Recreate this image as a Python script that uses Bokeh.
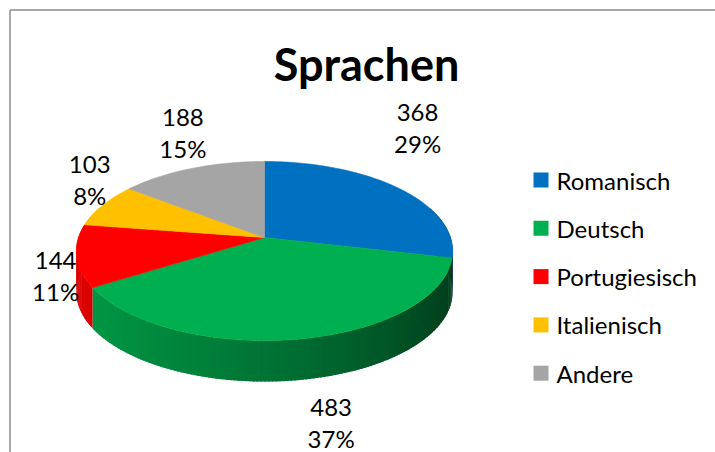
import math
from bokeh.plotting import figure
from bokeh.models import Range1d
from bokeh.core.properties import value
from bokeh.embed import file_html
from bokeh.resources import INLINE

# ---------------- data ----------------
title_text = "Sprachen"
categories = ["Romanisch", "Deutsch", "Portugiesisch", "Italienisch", "Andere"]
counts = [368, 483, 144, 103, 188]
pct_labels = ["29%", "37%", "11%", "8%", "15%"]
colors = ["#0070C0", "#00B050", "#FF0000", "#FFC000", "#A5A5A5"]

# ---------------- layout / style ----------------
W, H = 715, 452
OX, OY = 0, 0                 # data coords == page pixels
CX, CY = 264.0, 237.0         # pie apex
S, SS, K = 186.0, 87.5, 0.151 # horizontal radius, vertical radius, perspective
T = 41.0                      # thickness of the pie
FONT = "Lato"
# label nudges (pixels) relative to the slice's rim point
label_shift = [(20, -60), (31, 84), (-21, 20), (-13, -25), (-9, -35)]
LINE_GAP = 31

p = figure(width=W, height=H, x_range=Range1d(OX, OX + W), y_range=Range1d(OY + H, OY),
           output_backend="svg", toolbar_location=None, min_border=0,
           x_axis_location=None, y_axis_location=None)
p.grid.visible = False
p.outline_line_color = None
p.background_fill_color = "white"
p.border_fill_color = "white"

# chart area frame (only the top and left edges fall inside the window)
p.line([9.5, 9.5], [OY + H, 9.5], line_color="#8c8c8c", line_width=1.5)
p.line([9.5, OX + W], [9.5, 9.5], line_color="#8c8c8c", line_width=1.5)


def proj(alpha_deg, r=1.0):
    a = math.radians(alpha_deg)
    X = r * math.sin(a)
    Z = -r * math.cos(a)
    d = 1 - K * Z
    return CX + S * X / d, CY + SS * Z / d, X, Z


def shade(hexc, f):
    h = hexc.lstrip("#")
    r, g, b = (int(h[i:i + 2], 16) for i in (0, 2, 4))
    return "#%02x%02x%02x" % (int(r * f), int(g * f), int(b * f))


total = float(sum(counts))
starts, ends = [], []
acc = 0.0
for v in counts:
    starts.append(acc / total * 360.0)
    acc += v
    ends.append(acc / total * 360.0)

# ---------- side of the cylinder ----------
side = []
for i in range(len(counts)):
    a0, a1 = starts[i], ends[i]
    n = max(2, int(math.ceil((a1 - a0) / 1.0)))
    for j in range(n):
        b0 = a0 + (a1 - a0) * j / n
        b1 = a0 + (a1 - a0) * (j + 1) / n
        x0, y0, X0, Z0 = proj(b0)
        x1, y1, X1, Z1 = proj(min(a1, b1 + 0.6))
        Xm = (X0 + X1) / 2
        Zm = (Z0 + Z1) / 2
        if Zm < -0.35:
            continue
        f = 0.66 - 0.27 * Xm - 0.05 * Xm * Xm
        c = shade(colors[i], max(0.25, min(1.0, f)))
        side.append((Zm, [x0, x1, x1, x0], [y0, y1, y1 + T, y0 + T], c))
side.sort(key=lambda t: t[0])
p.patches([s[1] for s in side], [s[2] for s in side],
          fill_color=[s[3] for s in side], line_color=None)

# ---------- top face ----------
txs, tys = [], []
for i in range(len(counts)):
    a0, a1 = starts[i], ends[i]
    n = max(4, int(math.ceil((a1 - a0) / 1.0)))
    xs, ys = [CX], [CY]
    for j in range(n + 1):
        x, y, _, _ = proj(a0 + (a1 - a0) * j / n)
        xs.append(x)
        ys.append(y)
    txs.append(xs)
    tys.append(ys)
p.patches(txs, tys, fill_color=colors, line_color=colors, line_width=0.6)

# ---------- data labels ----------
lx, ly1, ly2, t1, t2 = [], [], [], [], []
for i in range(len(counts)):
    mid = (starts[i] + ends[i]) / 2
    x, y, _, _ = proj(mid)
    cx = x + label_shift[i][0]
    cy = y + label_shift[i][1]
    lx.append(cx)
    ly1.append(cy - LINE_GAP / 2)
    ly2.append(cy + LINE_GAP / 2)
    t1.append(str(counts[i]))
    t2.append(pct_labels[i])
for yy, tt in ((ly1, t1), (ly2, t2)):
    p.text(x=lx, y=yy, text=tt, text_font=value(FONT), text_font_size="24px",
           text_color="#000000", text_align="center", text_baseline="middle")

# ---------- title ----------
p.text(x=[366], y=[63], text=[title_text], text_font=value(FONT), text_font_size="45px",
       text_font_style="bold", text_color="#000000", text_align="center", text_baseline="middle")

# ---------- legend ----------
LEG_X, LEG_Y0, LEG_DY = 540.5, 179.5, 48.3
leg_y = [LEG_Y0 + i * LEG_DY for i in range(len(categories))]
p.scatter(x=[LEG_X] * len(categories), y=leg_y, marker="square", size=15,
          fill_color=colors, line_color=None)
p.text(x=[LEG_X + 15.5] * len(categories), y=leg_y, text=categories, text_font=value(FONT),
       text_font_size="24px", text_color="#000000", text_align="left", text_baseline="middle")

open("out.html", "w").write(file_html(p, INLINE))
